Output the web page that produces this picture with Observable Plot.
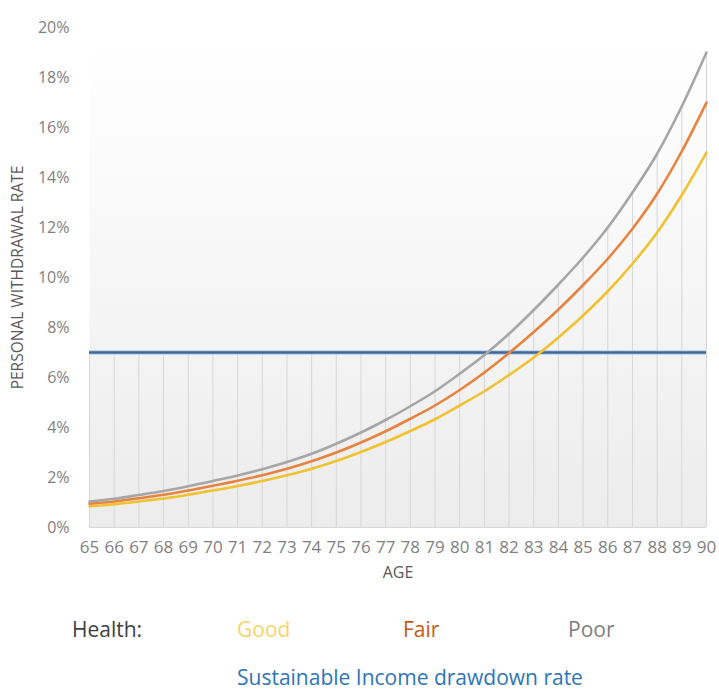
<!DOCTYPE html>
<html>
<head>
<meta charset="utf-8">
<script src="https://cdn.jsdelivr.net/npm/d3@7"></script>
<script src="https://cdn.jsdelivr.net/npm/@observablehq/plot@0.6"></script>
<style>
  html, body { margin: 0; padding: 0; background: #ffffff; }
  #wrap { position: relative; width: 719px; height: 691px; font-family: 'Open Sans', sans-serif; overflow: hidden; }
  #chart { position: absolute; left: 0; top: 0; }
  .lg { position: absolute; font-size: 21px; line-height: 1; white-space: nowrap; }
</style>
</head>
<body>
<div id="wrap">
  <div id="chart"></div>
  <div class="lg" style="left:72px; top:619px; color:#404040;">Health:</div>
  <div class="lg" id="lgGood" style="left:237px; top:619px;">Good</div>
  <div class="lg" id="lgFair" style="left:403px; top:619px;">Fair</div>
  <div class="lg" id="lgPoor" style="left:568px; top:619px;">Poor</div>
  <div class="lg" style="left:237px; top:667px; color:#2e75b6;">Sustainable Income drawdown rate</div>
</div>
<script>
// ---- data ----
const ages = [65,66,67,68,69,70,71,72,73,74,75,76,77,78,79,80,81,82,83,84,85,86,87,88,89,90];
const poor = [1.04,1.15,1.30,1.46,1.65,1.86,2.08,2.33,2.62,2.95,3.35,3.80,4.30,4.85,5.45,6.15,6.90,7.75,8.70,9.72,10.80,12.00,13.40,14.95,16.85,19.00];
const fair = [0.95,1.04,1.17,1.31,1.48,1.67,1.87,2.09,2.35,2.65,3.00,3.40,3.85,4.35,4.88,5.50,6.20,6.98,7.82,8.72,9.70,10.75,11.95,13.35,15.05,17.00];
const good = [0.85,0.93,1.04,1.16,1.31,1.48,1.66,1.86,2.09,2.35,2.66,3.02,3.42,3.86,4.33,4.88,5.45,6.10,6.80,7.60,8.48,9.45,10.55,11.80,13.30,15.00];
const target = 7;
const yTicks = [0,2,4,6,8,10,12,14,16,18,20];
const healthNames = ["Good","Fair","Poor"];
const healthColors = ["#f2c12e","#e8823f","#a6a6a6"];
const legendColors = ["#f7d46a","#c55a11","#7f7f7f"];

const rows = [];
[good, fair, poor].forEach((arr, k) => arr.forEach((v, i) => rows.push({age: ages[i], rate: v, health: healthNames[k]})));

const svg = Plot.plot({
  width: 719,
  height: 590,
  marginLeft: 89,
  marginRight: 13,
  marginTop: 27,
  marginBottom: 63,
  style: {fontFamily: "'Open Sans', sans-serif", fontSize: "17px", color: "#7f7f7f", background: "transparent"},
  x: {domain: [65, 90]},
  y: {domain: [0, 20]},
  color: {domain: healthNames, range: healthColors},
  marks: [
    Plot.frame({fill: "url(#plotBg)", stroke: null}),
    Plot.ruleX(ages, {x: d => d, y1: 0, y2: (d, i) => Math.max(target, poor[i]), stroke: "#d6d6d6", strokeWidth: 1}),
    Plot.ruleY([0], {stroke: "#d6d6d6", strokeWidth: 1}),
    Plot.axisX({ticks: ages, tickSize: 0, tickPadding: 13, tickFormat: d => String(d), label: null, fontSize: 17}),
    Plot.axisY({ticks: yTicks, tickSize: 0, tickPadding: 20, tickFormat: d => d + "%", label: null, fontSize: 16}),
    Plot.ruleY([target], {stroke: "#b7cdea", strokeWidth: 4.5}),
    Plot.ruleY([target], {stroke: "#44679a", strokeWidth: 2.4}),
    Plot.line(rows, {x: "age", y: "rate", z: "health", stroke: "health", curve: "monotone-x", strokeWidth: 2.6}),
    Plot.text(["AGE"], {frameAnchor: "bottom", dy: 50, fontSize: 16, fill: "#595959"}),
    Plot.text(["PERSONAL WITHDRAWAL RATE"], {frameAnchor: "left", dx: -71, rotate: -90, textAnchor: "middle", fontSize: 15.5, fill: "#595959"})
  ]
});

d3.select(svg).insert("defs", ":first-child").html(
  '<linearGradient id="plotBg" x1="0" y1="0" x2="0" y2="1">' +
  '<stop offset="0" stop-color="#ffffff"/>' +
  '<stop offset="0.15" stop-color="#fdfdfd"/>' +
  '<stop offset="1" stop-color="#ececec"/>' +
  '</linearGradient>'
);

document.getElementById("chart").appendChild(svg);
document.getElementById("lgGood").style.color = legendColors[0];
document.getElementById("lgFair").style.color = legendColors[1];
document.getElementById("lgPoor").style.color = legendColors[2];
</script>
</body>
</html>
